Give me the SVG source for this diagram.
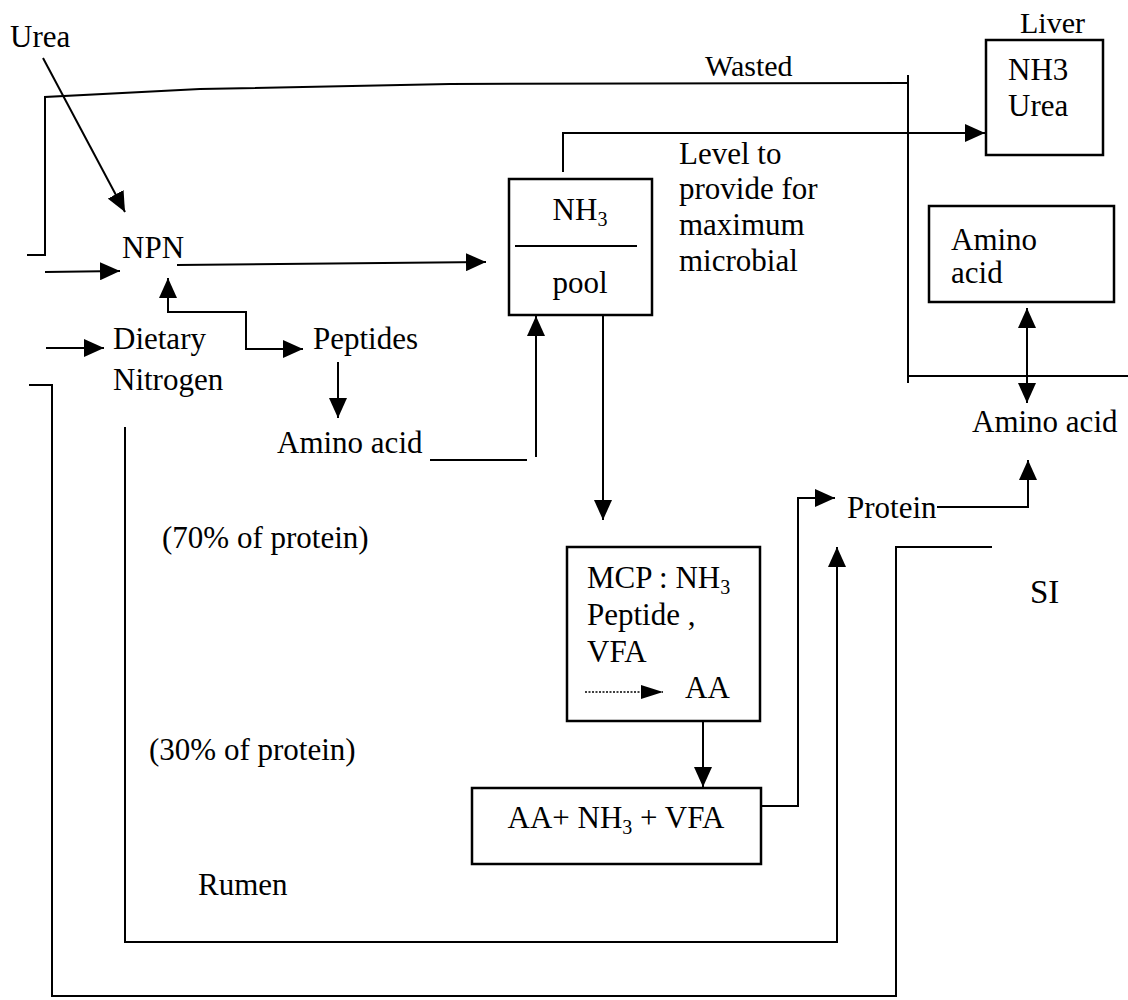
<svg xmlns="http://www.w3.org/2000/svg" width="1128" height="1000" viewBox="0 0 1128 1000">
<style>
text{font-family:"Liberation Serif","Times New Roman",serif;font-size:31px;fill:#000}
.ln{fill:none;stroke:#000;stroke-width:2}
.box{fill:#fff;stroke:#000;stroke-width:2.5}
.arr{marker-end:url(#ah)}
.both{marker-start:url(#ah);marker-end:url(#ah)}
.dot{fill:none;stroke:#000;stroke-width:1.5;stroke-dasharray:2 1.5;marker-end:url(#ahs)}
.sub{font-size:20px}
</style>
<defs>
<marker id="ah" markerWidth="20" markerHeight="18" refX="20" refY="9" orient="auto-start-reverse" markerUnits="userSpaceOnUse"><path d="M0,0 L20,9 L0,18 z" fill="#000"/></marker>
<marker id="ahs" markerWidth="22" markerHeight="14" refX="22" refY="7" orient="auto" markerUnits="userSpaceOnUse"><path d="M0,0 L22,7 L0,14 z" fill="#000"/></marker>
</defs>
<rect width="1128" height="1000" fill="#fff"/>

<g id="connectors">
<line class="ln arr" x1="43" y1="58" x2="125" y2="212"/>
<path class="ln" d="M27,255 H45 V97 L200,89 L450,84 L908,83"/>
<line class="ln" x1="908" y1="75" x2="908" y2="383"/>
<line class="ln" x1="908" y1="376" x2="1128" y2="376"/>
<line class="ln arr" x1="45" y1="272" x2="120" y2="271"/>
<line class="ln arr" x1="46" y1="348" x2="104" y2="348"/>
<path class="ln arr" d="M177,265 L486,262"/>
<path class="ln both" d="M168,278 V312 H246 V349 H303"/>
<line class="ln arr" x1="338" y1="362" x2="338" y2="418"/>
<line class="ln" x1="430" y1="460" x2="527" y2="460"/>
<line class="ln arr" x1="536" y1="457" x2="536" y2="316"/>
<line class="ln arr" x1="603" y1="310" x2="603" y2="520"/>
<path class="ln arr" d="M563,172 V133 H985"/>
<line class="ln arr" x1="703" y1="710" x2="703" y2="787"/>
<path class="ln arr" d="M761,806 H798 V498 H835"/>
<path class="ln arr" d="M125,427 V942 H837 V547"/>
<path class="ln" d="M29,385 H52 V996 H896 V547 H992"/>
<path class="ln arr" d="M937,507 H1028 V460"/>
<line class="ln both" x1="1027" y1="308" x2="1027" y2="403"/>
</g>

<g id="urea-source"><text x="10" y="47">Urea</text></g>
<g id="npn"><text x="122" y="258">NPN</text></g>
<g id="dietary-nitrogen"><text x="113" y="349">Dietary</text><text x="113" y="390">Nitrogen</text></g>
<g id="peptides"><text x="313" y="349">Peptides</text></g>
<g id="amino-acid-rumen"><text x="277" y="453">Amino acid</text></g>

<g id="nh3-pool">
<rect class="box" x="509" y="179" width="143" height="136"/>
<line class="ln" x1="515" y1="246" x2="637" y2="246"/>
<text x="580" y="220" text-anchor="middle">NH<tspan class="sub" dy="6">3</tspan></text>
<text x="580" y="293" text-anchor="middle">pool</text>
</g>

<g id="level-note">
<text x="679" y="164">Level to</text>
<text x="679" y="199">provide for</text>
<text x="679" y="235">maximum</text>
<text x="679" y="271">microbial</text>
</g>

<g id="wasted"><text x="705" y="76" style="font-size:30px">Wasted</text></g>

<g id="liver">
<text x="1020" y="33" style="font-size:30px">Liver</text>
<rect class="box" x="986" y="40" width="117" height="115"/>
<text x="1008" y="80">NH3</text>
<text x="1008" y="116">Urea</text>
</g>

<g id="amino-acid-box">
<rect class="box" x="929" y="206" width="185" height="96"/>
<text x="951" y="250">Amino</text>
<text x="951" y="283">acid</text>
</g>

<g id="amino-acid-si"><text x="972" y="432">Amino acid</text></g>
<g id="protein"><text x="847" y="518">Protein</text></g>
<g id="si"><text x="1030" y="603" style="font-size:33px">SI</text></g>
<g id="pct70"><text x="162" y="548">(70% of protein)</text></g>
<g id="pct30"><text x="149" y="760">(30% of protein)</text></g>
<g id="rumen"><text x="198" y="895">Rumen</text></g>

<g id="mcp">
<rect class="box" x="567" y="547" width="193" height="174"/>
<text x="587" y="588">MCP : NH<tspan class="sub" dy="6">3</tspan></text>
<text x="587" y="625">Peptide ,</text>
<text x="587" y="662">VFA</text>
<line class="dot" x1="585" y1="692" x2="663" y2="692"/>
<text x="685" y="698">AA</text>
</g>

<g id="aa-nh3-vfa">
<rect class="box" x="472" y="788" width="289" height="76"/>
<text x="616" y="828" text-anchor="middle">AA+ NH<tspan class="sub" dy="6">3</tspan><tspan dy="-6"> + VFA</tspan></text>
</g>
</svg>
